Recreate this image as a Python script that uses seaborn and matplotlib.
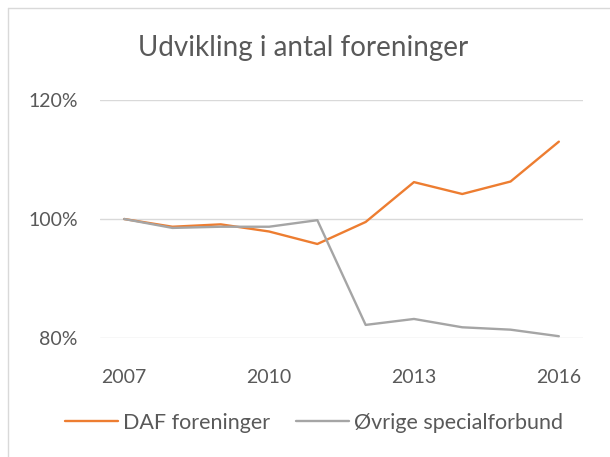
import seaborn as sns
import matplotlib.pyplot as plt
import pandas as pd
from matplotlib.lines import Line2D

years = [2007, 2008, 2009, 2010, 2011, 2012, 2013, 2014, 2015, 2016]
daf = [100.0, 98.7, 99.1, 97.9, 95.8, 99.5, 106.2, 104.2, 106.3, 113.0]
oevrige = [100.0, 98.5, 98.7, 98.7, 99.8, 82.2, 83.2, 81.8, 81.4, 80.3]
series_names = ['DAF foreninger', 'Øvrige specialforbund']
colors = ['#ED7D31', '#A5A5A5']
x_ticks = [2007, 2010, 2013, 2016]
y_ticks = [80, 100, 120]

df = pd.DataFrame({'År': years, series_names[0]: daf, series_names[1]: oevrige})
long = df.melt(id_vars='År', var_name='Serie', value_name='Indeks')

sns.set_style('white')
plt.rcParams['font.family'] = ['Lato', 'DejaVu Sans']
text_col = '#595959'
grid_col = '#D9D9D9'

fig = plt.figure(figsize=(6.1, 4.57), dpi=100)
ax = fig.add_axes([100 / 610, 1 - 338 / 457, 483 / 610, 238 / 457])
sns.lineplot(data=long, x='År', y='Indeks', hue='Serie', palette=colors,
             linewidth=1.7, ax=ax, legend=False)

ax.set_xlim(2006.5, 2016.5)
ax.set_ylim(80, 120)
ax.set_xticks(x_ticks)
ax.set_yticks(y_ticks)
ax.set_yticklabels([f'{v}%' for v in y_ticks])
ax.set_xlabel('')
ax.set_ylabel('')
ax.tick_params(axis='both', length=0, labelsize=14, labelcolor=text_col)
ax.tick_params(axis='x', pad=22)
ax.tick_params(axis='y', pad=16)
ax.grid(axis='y', color=grid_col, linewidth=1)
ax.set_axisbelow(True)
for s in ax.spines.values():
    s.set_visible(False)

fig.text(0.4975, 1 - 48 / 457, 'Udvikling i antal foreninger',
         ha='center', va='center', fontsize=20, color=text_col)

handles = [Line2D([], [], color=c, linewidth=1.7) for c in colors]
fig.legend(handles, series_names, loc='center', bbox_to_anchor=(314 / 610, 1 - 423 / 457),
           ncol=2, frameon=False, fontsize=15.5, labelcolor=text_col,
           handlelength=2.46, handletextpad=0.23, columnspacing=1.2)

# chart area border (top and left edges visible)
fig.add_artist(Line2D([8 / 610, 1], [1 - 8 / 457, 1 - 8 / 457], color=grid_col, linewidth=1))
fig.add_artist(Line2D([8 / 610, 8 / 610], [0, 1 - 8 / 457], color=grid_col, linewidth=1))

fig.savefig('out.png', dpi=100)
